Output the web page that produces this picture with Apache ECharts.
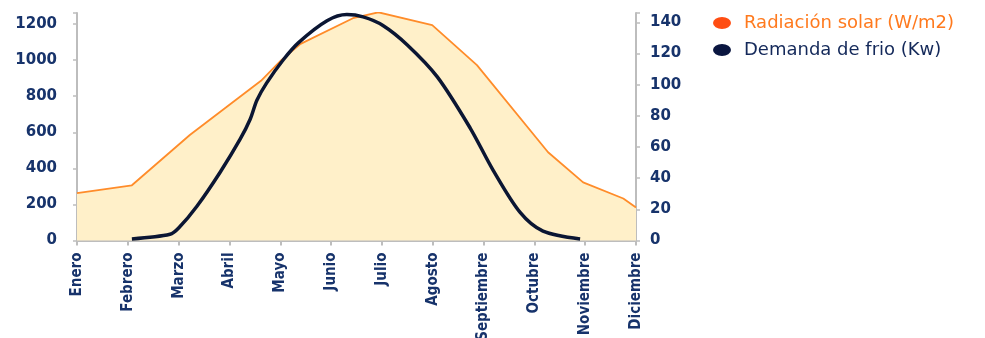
<!DOCTYPE html>
<html>
<head>
<meta charset="utf-8">
<script src="https://cdn.jsdelivr.net/npm/echarts@6/dist/echarts.min.js"></script>
<style>
  html, body { margin: 0; padding: 0; background: #ffffff; }
  #chart { width: 985px; height: 338px; }
</style>
</head>
<body>
<div id="chart"></div>
<script>
// Month labels along the horizontal axis
const meses = ['Enero', 'Febrero', 'Marzo', 'Abril', 'Mayo', 'Junio', 'Julio',
  'Agosto', 'Septiembre', 'Octubre', 'Noviembre', 'Diciembre'];

// Solar radiation (W/m2): position along the year (0 = Enero) and value
const radiacionPos = [0, 1.08, 2.22, 3.62, 4.02, 4.40, 5.43, 5.93, 6.99, 7.87, 9.27, 9.96, 10.75, 11];
const radiacionVal = [263, 306, 585, 885, 1000, 1090, 1232, 1265, 1194, 972, 489, 322, 233, 183];

// Cooling demand (kW): position along the year and value
const demandaPos = [1.08, 1.83, 2.0, 2.36, 2.82, 3.21, 3.41, 3.54, 3.73, 4.06, 4.36, 4.92, 5.31, 5.63,
  6.02, 6.50, 7.09, 7.74, 8.19, 8.72, 9.17, 9.90];
const demandaVal = [1, 4, 8, 22, 44, 65, 78, 90, 101, 116, 127, 141, 145, 143.5,
  138, 125.5, 105, 72, 45, 18, 6, 1];

// Tick labels of both value axes
const ticksIzq = [0, 200, 400, 600, 800, 1000, 1200];
const ticksDer = [0, 20, 40, 60, 80, 100, 120, 140];

const serieRad = 'Radiación solar (W/m2)';
const serieDem = 'Demanda de frio (Kw)';

const azul = '#17336b';
const gris = '#bdbdbd';

const pares = (xs, ys) => xs.map((x, i) => [x, ys[i]]);

const chart = echarts.init(document.getElementById('chart'), null, { renderer: 'canvas' });

chart.setOption({
  animation: false,
  backgroundColor: '#ffffff',
  grid: { left: 77, right: 349, top: 13, bottom: 97.5, containLabel: false, outerBoundsMode: 'none' },
  legend: {
    orient: 'vertical',
    left: 708,
    top: 9,
    itemGap: 9,
    itemWidth: 18,
    itemHeight: 13,
    icon: 'path://M0,6 A9,6 0 1,0 18,6 A9,6 0 1,0 0,6 Z',
    textStyle: { fontFamily: '"DejaVu Sans", Verdana, sans-serif', fontSize: 18, padding: [0, 0, 0, 8] },
    data: [
      { name: serieRad, itemStyle: { color: '#ff4d12' }, textStyle: { color: '#ff7a1e' } },
      { name: serieDem, itemStyle: { color: '#0a1640' }, textStyle: { color: '#14295a' } }
    ]
  },
  xAxis: {
    type: 'value',
    min: 0,
    max: meses.length - 1,
    interval: 1,
    splitLine: { show: false },
    axisLine: { show: true, lineStyle: { color: gris, width: 2 } },
    axisTick: { show: true, length: 5, lineStyle: { color: gris, width: 2 } },
    axisLabel: {
      rotate: 90,
      margin: 12,
      color: azul,
      fontWeight: 'bold',
      fontSize: 15,
      fontFamily: '"Liberation Sans Narrow", "DejaVu Sans Condensed", "Arial Narrow", sans-serif',
      formatter: v => meses[Math.round(v)] || ''
    }
  },
  yAxis: [
    {
      type: 'value',
      min: 0,
      max: 1261,
      interval: 200,
      splitLine: { show: false },
      axisLine: { show: true, lineStyle: { color: gris, width: 2 } },
      axisTick: { show: true, length: 4, lineStyle: { color: gris, width: 1.5 } },
      axisLabel: {
        margin: 20,
        color: azul,
        fontWeight: 'bold',
        fontSize: 15,
        fontFamily: '"DejaVu Sans", Verdana, sans-serif',
        formatter: v => (ticksIzq.indexOf(v) >= 0 ? String(v) : '')
      }
    },
    {
      type: 'value',
      position: 'right',
      min: 0,
      max: 146,
      interval: 20,
      splitLine: { show: false },
      axisLine: { show: true, lineStyle: { color: gris, width: 2 } },
      axisTick: { show: true, length: 4, lineStyle: { color: gris, width: 1.5 } },
      axisLabel: {
        margin: 14,
        color: azul,
        fontWeight: 'bold',
        fontSize: 15,
        fontFamily: '"DejaVu Sans", Verdana, sans-serif',
        formatter: v => (ticksDer.indexOf(v) >= 0 ? String(v) : '')
      }
    }
  ],
  series: [
    {
      name: serieRad,
      type: 'line',
      yAxisIndex: 0,
      data: pares(radiacionPos, radiacionVal),
      showSymbol: false,
      smooth: false,
      itemStyle: { color: '#ff4d12' },
      lineStyle: { color: '#ff8c2a', width: 1.8 },
      areaStyle: { color: '#fff0c9', opacity: 1 },
      z: 2
    },
    {
      name: serieDem,
      type: 'line',
      yAxisIndex: 1,
      data: pares(demandaPos, demandaVal),
      showSymbol: false,
      smooth: 0.3,
      itemStyle: { color: '#0a1640' },
      lineStyle: { color: '#0b1633', width: 3.5 },
      z: 3
    }
  ]
});
</script>
</body>
</html>
